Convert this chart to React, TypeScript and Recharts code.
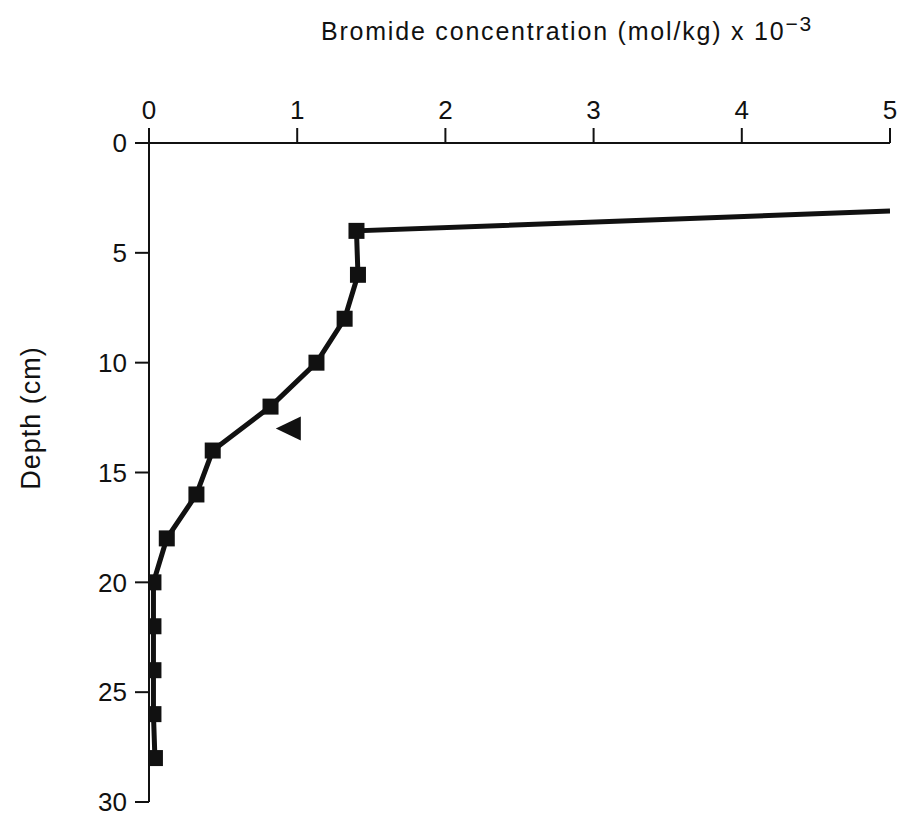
import React from 'react';
import {
  LineChart,
  Line,
  XAxis,
  YAxis,
  ReferenceDot,
} from 'recharts';

// bromide profile, first point is where the line leaves the top right of the plot
const concentration = [5, 1.4, 1.41, 1.32, 1.13, 0.82, 0.43, 0.32, 0.12, 0.03, 0.03, 0.03, 0.03, 0.04];
const depth = [3.1, 4, 6, 8, 10, 12, 14, 16, 18, 20, 22, 24, 26, 28];
const concTicks = [0, 1, 2, 3, 4, 5];
const depthTicks = [0, 5, 10, 15, 20, 25, 30];
const arrowMark = { conc: 0.95, depth: 13 };

const data = concentration.map((c, i) => ({ conc: c, depth: depth[i] }));

const FONT = '"Liberation Sans", Arial, sans-serif';

const SquareDot = (props: any) => {
  const { cx, cy, payload, index } = props;
  if (payload.conc >= 5) return <g key={index} />;
  return <rect key={index} x={cx - 8} y={cy - 8} width={16} height={16} fill="#111" />;
};

const Triangle = (props: any) => {
  const { cx, cy } = props;
  return <path d={`M${cx - 14},${cy} L${cx + 11},${cy - 12} L${cx + 11},${cy + 12} Z`} fill="#111" />;
};

const Title = () => (
  <text x={567} y={40} textAnchor="middle" fontFamily={FONT} fontSize={25} letterSpacing={1.8} fill="#111">
    Bromide concentration (mol/kg) x 10
    <tspan dy={-9} fontSize={21}>−3</tspan>
  </text>
);

const DepthLabel = () => (
  <text x={0} y={0} transform="translate(40, 418) rotate(-90)" textAnchor="middle"
    fontFamily={FONT} fontSize={27} letterSpacing={1} fill="#111">
    Depth (cm)
  </text>
);

const App: React.FC = () => {
  return (
    <div style={{ position: 'absolute', left: 0, top: 0, background: '#fff' }}>
      <LineChart
        width={900}
        height={821}
        data={data}
        margin={{ top: 83, right: 10, bottom: 19, left: 0 }}
      >
        <XAxis
          dataKey="conc"
          type="number"
          orientation="top"
          domain={[0, 5]}
          ticks={concTicks}
          allowDataOverflow
          stroke="#111"
          strokeWidth={2}
          tickSize={15}
          tickMargin={9}
          tick={{ fill: '#111', fontSize: 26, fontFamily: FONT }}
          height={60}
          label={{ content: () => <Title /> }}
        />
        <YAxis
          dataKey="depth"
          type="number"
          reversed
          domain={[0, 30]}
          ticks={depthTicks}
          stroke="#111"
          strokeWidth={2}
          tickSize={14}
          tickMargin={8}
          width={149}
          tick={{ fill: '#111', fontSize: 26, fontFamily: FONT }}
          label={{ content: () => <DepthLabel /> }}
        />
        <Line
          type="linear"
          dataKey="depth"
          stroke="#111"
          strokeWidth={5}
          dot={<SquareDot />}
          isAnimationActive={false}
        />
        <ReferenceDot x={arrowMark.conc} y={arrowMark.depth} shape={<Triangle />} />
      </LineChart>
    </div>
  );
};

export default App;
